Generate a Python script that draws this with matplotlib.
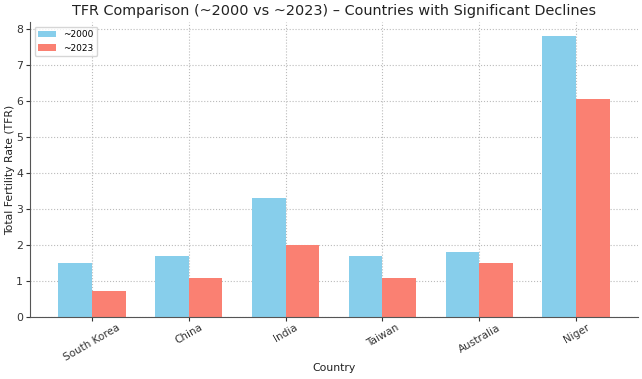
import numpy as np
import matplotlib
matplotlib.use("Agg")
import matplotlib.pyplot as plt

countries = ["South Korea", "China", "India", "Taiwan", "Australia", "Niger"]
tfr_2000 = [1.5, 1.7, 3.3, 1.7, 1.8, 7.8]
tfr_2023 = [0.72, 1.09, 2.0, 1.09, 1.5, 6.05]

x = np.arange(len(countries))
width = 0.35

fig, ax = plt.subplots(figsize=(6.42, 3.79), dpi=100)
ax.bar(x - width/2, tfr_2000, width, label="~2000", color="skyblue")
ax.bar(x + width/2, tfr_2023, width, label="~2023", color="salmon")

ax.set_title("TFR Comparison (~2000 vs ~2023) \u2013 Countries with Significant Declines",
             fontsize=10.4, color="#222222", pad=5)
ax.set_xlabel("Country", fontsize=7.8, color="#222222", labelpad=0)
ax.set_ylabel("Total Fertility Rate (TFR)", fontsize=7.8, color="#222222", labelpad=1)
ax.set_xticks(x)
ax.set_xticklabels(countries, rotation=30, fontsize=7.5)
ax.tick_params(axis="y", labelsize=7.8, pad=2)
ax.tick_params(axis="x", pad=1)
ax.tick_params(colors="#333333", length=3)
ax.legend(fontsize=6.5, loc="upper left")
ax.grid(True, linestyle=":", color="#bbbbbb", linewidth=0.8)
ax.set_axisbelow(True)
for s in ["top", "right"]:
    ax.spines[s].set_visible(False)
for s in ["left", "bottom"]:
    ax.spines[s].set_color("#555555")

fig.subplots_adjust(left=30/642, right=638/642, top=1 - 22/379, bottom=1 - 317/379)
plt.savefig("out.png", dpi=100)
